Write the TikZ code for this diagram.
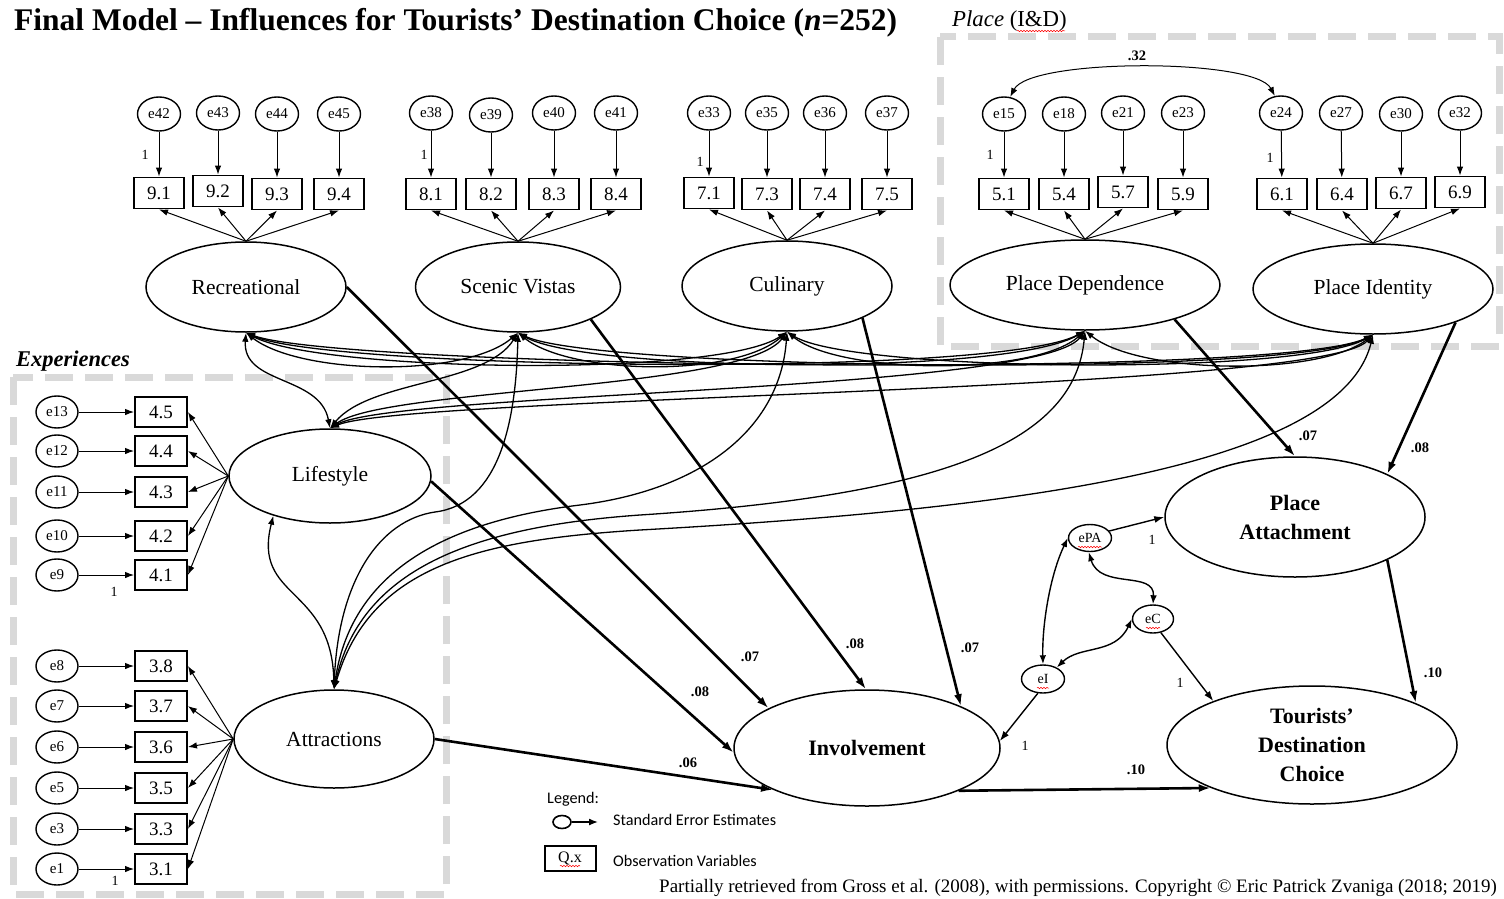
\documentclass[tikz,border=0pt]{standalone}
\usepackage{fontspec}
\setmainfont{Liberation Serif}
\newfontfamily\legendfont{Carlito}
\usetikzlibrary{arrows.meta,shapes.geometric,decorations.pathmorphing}
\definecolor{boxgray}{RGB}{217,217,217}
\begin{document}
\begin{tikzpicture}[x=1pt,y=-1pt,
 errnode/.style={draw,ellipse,line width=1.4pt,minimum width=43pt,minimum height=34pt,inner sep=0pt,fill=white,font=\fontsize{15}{15}\selectfont},
 lerrnode/.style={errnode,minimum width=42pt,minimum height=32pt},
 obsbox/.style={draw,rectangle,line width=1.9pt,minimum width=50pt,minimum height=31pt,inner sep=0pt,fill=white,font=\fontsize{19}{19}\selectfont},
 lobsbox/.style={obsbox,minimum width=52pt,minimum height=30pt},
 latent/.style={draw,ellipse,line width=1.5pt,inner sep=0pt,fill=white,font=\fontsize{21.5}{21.5}\selectfont},
 endog/.style={latent,font=\fontsize{22}{29}\selectfont\bfseries,align=center},
 smallerr/.style={draw,ellipse,line width=1.4pt,inner sep=0pt,fill=white,font=\fontsize{14}{14}\selectfont},
 ind/.style={line width=1pt,-{Latex[length=9pt,width=6.5pt]}},
 cov/.style={line width=1.3pt,{Latex[length=9pt,width=6.5pt]}-{Latex[length=9pt,width=6.5pt]}},
 strpath/.style={line width=2.6pt,-{Latex[length=12pt,width=8pt]}},
 errpath/.style={line width=1.4pt,-{Latex[length=10pt,width=7pt]}},
 coef/.style={font=\fontsize{14.5}{14.5}\selectfont\bfseries},
 one/.style={font=\fontsize{14}{14}\selectfont},
 grpbox/.style={draw=boxgray,line width=7pt,dash pattern=on 28pt off 12pt},
 legtext/.style={anchor=west,inner sep=0pt,font=\legendfont\fontsize{16.2}{16.2}\selectfont},
 squig/.style={draw=red,line width=0.5pt,decorate,decoration={snake,amplitude=0.7pt,segment length=3pt}}
]
\useasboundingbox (0,0) rectangle (1504,899);

% group boxes
\draw[grpbox] (940,37) rectangle (1499,346);
\draw[grpbox] (13,377) rectangle (446,894);

% titles
\node[anchor=base west,inner sep=0pt,font=\fontsize{31.5}{31.5}\selectfont\bfseries] (title) at (14,31) {Final Model – Influences for Tourists’ Destination Choice (\textit{n}=252)};
\node[anchor=base west,inner sep=0pt,font=\fontsize{22.8}{22.8}\selectfont] (placelbl) at (952,27) {\textit{Place} (I\&D)};
\draw[squig] ([xshift=65pt,yshift=-4pt]placelbl.base west) -- ([xshift=113pt,yshift=-4pt]placelbl.base west);
\node[anchor=base west,inner sep=0pt,font=\fontsize{22.5}{22.5}\selectfont\bfseries\itshape] (explbl) at (16,366) {Experiences};

% latent variables
\node[latent,minimum width=200pt,minimum height=90pt] (rec) at (246,287) {Recreational};
\node[latent,minimum width=205pt,minimum height=90pt] (scen) at (518,287) {Scenic Vistas};
\node[latent,minimum width=210pt,minimum height=90pt] (cul) at (787,286) {Culinary};
\node[latent,minimum width=270pt,minimum height=90pt] (pd) at (1085,285) {Place Dependence};
\node[latent,minimum width=240pt,minimum height=90pt] (pi) at (1373,289) {Place Identity};
\node[latent,minimum width=202pt,minimum height=94pt] (life) at (330,476) {Lifestyle};
\node[latent,minimum width=200pt,minimum height=98pt] (attr) at (334,739) {Attractions};
\node[endog,minimum width=266pt,minimum height=116pt] (inv) at (867,748) {Involvement};
\node[endog,minimum width=260pt,minimum height=120pt] (pa) at (1295,517) {Place\\Attachment};
\node[endog,minimum width=290pt,minimum height=118pt] (tdc) at (1312,745) {Tourists’\\Destination\\Choice};

% top indicators
\foreach \e/\ex/\ey/\b/\bx/\by/\f [count=\i] in {
 42/159/114/9.1/159/193/rec, 43/218/113/9.2/218/191/rec, 44/277/114/9.3/277/194/rec, 45/339/114/9.4/339/194/rec,
 38/431/113/8.1/431/194/scen, 39/491/115/8.2/491/194/scen, 40/554/113/8.3/554/194/scen, 41/616/113/8.4/616/194/scen,
 33/709/113/7.1/709/193/cul, 35/767/113/7.3/767/194/cul, 36/825/113/7.4/825/194/cul, 37/887/113/7.5/887/194/cul,
 15/1004/114/5.1/1004/194/pd, 18/1064/114/5.4/1064/194/pd, 21/1123/113/5.7/1123/192/pd, 23/1183/113/5.9/1183/194/pd,
 24/1281/113/6.1/1282/194/pi, 27/1341/113/6.4/1342/194/pi, 30/1401/114/6.7/1401/193/pi, 32/1460/113/6.9/1460/192/pi}
{
 \node[errnode] (e\e) at (\ex,\ey) {e\e};
 \node[obsbox] (box\i) at (\bx,\by) {\b};
 \draw[ind] (e\e) -- (box\i);
 \draw[ind] (\f.north) -- (box\i.south);
}
\node[one] (o1) at (145,155) {1};
\node[one] (o2) at (424,155) {1};
\node[one] (o3) at (700,162) {1};
\node[one] (o4) at (990,155) {1};
\node[one] (o5) at (1270,158) {1};
\draw[cov,line width=1pt] (e15.70) .. controls (1030,58) and (1255,58) .. (e24.110);
\node[coef] (c32) at (1137,56) {.32};

% left indicators
\foreach \e/\ey/\b/\f [count=\i] in {
 13/412/4.5/life, 12/451/4.4/life, 11/492/4.3/life, 10/536/4.2/life, 9/575/4.1/life,
 8/666/3.8/attr, 7/706/3.7/attr, 6/747/3.6/attr, 5/788/3.5/attr, 3/829/3.3/attr, 1/869/3.1/attr}
{
 \node[lerrnode] (e\e) at (57,\ey) {e\e};
 \node[lobsbox] (lbox\i) at (161,\ey) {\b};
 \draw[ind] (e\e) -- (lbox\i);
 \draw[ind] (\f.west) -- (lbox\i.east);
}
\node[one] (o6) at (114,592) {1};
\node[one] (o7) at (115,881) {1};

% covariances among exogenous factors
\draw[cov] (rec.south) .. controls (300,375) and (465,378) .. (scen.south);
\draw[cov] (rec.south) .. controls (320,372) and (720,378) .. (cul.south);
\draw[cov] (rec.south) .. controls (330,370) and (1000,378) .. (pd.south);
\draw[cov] (rec.south) .. controls (340,368) and (1280,380) .. (pi.south);
\draw[cov] (scen.south) .. controls (570,375) and (735,378) .. (cul.south);
\draw[cov] (scen.south) .. controls (585,372) and (1010,376) .. (pd.south);
\draw[cov] (scen.south) .. controls (595,370) and (1290,378) .. (pi.south);
\draw[cov] (cul.south) .. controls (840,375) and (1035,376) .. (pd.south);
\draw[cov] (cul.south) .. controls (850,372) and (1300,376) .. (pi.south);
\draw[cov] (pd.south) .. controls (1140,375) and (1320,376) .. (pi.south);
\draw[cov] (rec.south) .. controls (242,385) and (320,375) .. (life.north);
\draw[cov] (life.north) .. controls (370,380) and (485,385) .. (scen.south);
\draw[cov] (life.north) .. controls (385,388) and (745,390) .. (cul.south);
\draw[cov] (life.north) .. controls (395,392) and (1040,392) .. (pd.south);
\draw[cov] (life.north) .. controls (405,396) and (1320,392) .. (pi.south);
\draw[cov] (life.215) .. controls (252,600) and (332,585) .. (attr.north);
\draw[cov] (attr.north) .. controls (338,580) and (380,520) .. (435,512) .. controls (500,504) and (516,420) .. (scen.south);
\draw[cov] (attr.north) .. controls (350,575) and (440,522) .. (580,505) .. controls (700,490) and (780,430) .. (cul.south);
\draw[cov] (attr.north) .. controls (360,570) and (470,527) .. (640,515) .. controls (950,495) and (1075,440) .. (pd.south);
\draw[cov] (attr.north) .. controls (370,565) and (480,540) .. (640,530) .. controls (1000,510) and (1340,470) .. (pi.south);

% structural paths
\draw[strpath] (rec.east) -- (inv.158);
\draw[strpath] (life.-3) -- (inv.182);
\draw[strpath] (scen.-24) -- (inv.91);
\draw[strpath] (cul.-23) -- (inv.24);
\draw[strpath] (attr.east) -- (inv.204);
\draw[strpath] (inv.-25) -- (tdc.203);
\draw[strpath] (pd.-21) -- (pa.north);
\draw[strpath] (pi.-22) -- (pa.25);
\draw[strpath] (pa.-25) -- (tdc.22);
\node[coef] (k1) at (750,657) {.07};
\node[coef] (k2) at (700,692) {.08};
\node[coef] (k3) at (855,644) {.08};
\node[coef] (k4) at (970,648) {.07};
\node[coef] (k5) at (688,763) {.06};
\node[coef] (k6) at (1136,770) {.10};
\node[coef] (k7) at (1308,436) {.07};
\node[coef] (k8) at (1420,448) {.08};
\node[coef] (k9) at (1433,673) {.10};

% disturbances
\node[smallerr,minimum width=43pt,minimum height=27pt] (ePA) at (1090,538) {ePA};
\node[smallerr,minimum width=41pt,minimum height=28pt] (eC) at (1153,619) {eC};
\node[smallerr,minimum width=43pt,minimum height=28pt] (eI) at (1043,679) {eI};
\draw[squig] ([xshift=-12pt,yshift=-9pt]ePA.center) -- ([xshift=12pt,yshift=-9pt]ePA.center);
\draw[squig] ([xshift=-7pt,yshift=-9pt]eC.center) -- ([xshift=7pt,yshift=-9pt]eC.center);
\draw[squig] ([xshift=-6pt,yshift=-9pt]eI.center) -- ([xshift=6pt,yshift=-9pt]eI.center);
\draw[errpath] (ePA.20) -- (pa.west);
\draw[errpath] (eC.-60) -- (tdc.156);
\draw[errpath] (eI.-110) -- (inv.3);
\draw[cov,line width=1.4pt] (ePA.west) .. controls (1050,575) and (1042,625) .. (eI.north);
\draw[cov,line width=1.4pt] (ePA.-95) .. controls (1100,590) and (1155,570) .. (eC.north);
\draw[cov,line width=1.4pt] (eI.40) .. controls (1080,645) and (1115,655) .. (eC.west);
\node[one] (o8) at (1152,540) {1};
\node[one] (o9) at (1180,683) {1};
\node[one] (o10) at (1025,746) {1};

% legend
\node[legtext] (leg) at (547,799) {Legend:};
\node[draw,ellipse,line width=1.6pt,minimum width=18pt,minimum height=13pt,inner sep=0pt] (legE) at (562,822) {};
\coordinate (legA) at (598,822);
\draw[line width=1.4pt,-{Latex[length=9pt,width=7pt]}] (legE) -- (legA);
\node[legtext] (legt1) at (613,820) {Standard Error Estimates};
\node[draw,rectangle,line width=2pt,minimum width=51pt,minimum height=25pt,inner sep=0pt,font=\fontsize{16}{16}\selectfont] (legB) at (570,858) {Q.x};
\draw[squig] ([xshift=-10pt,yshift=-8pt]legB.center) -- ([xshift=10pt,yshift=-8pt]legB.center);
\node[legtext] (legt2) at (613,861) {Observation Variables};
\node[anchor=base east,inner sep=0pt,font=\fontsize{19}{19}\selectfont] (foot) at (1497,892) {Partially retrieved from Gross et al. (2008), with permissions. Copyright © Eric Patrick Zvaniga (2018; 2019)};
\end{tikzpicture}
\end{document}
